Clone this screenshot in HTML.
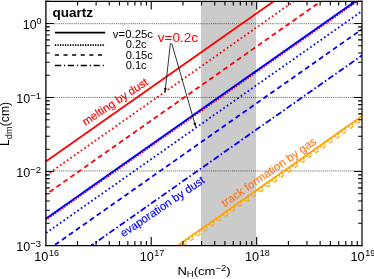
<!DOCTYPE html>
<html><head><meta charset="utf-8"><title>quartz</title>
<style>html,body{margin:0;padding:0;background:#fff;}svg{display:block;will-change:transform;}text{font-family:"Liberation Sans",sans-serif;}</style></head><body>
<svg width="374" height="279" viewBox="0 0 374 279">
<rect x="0" y="0" width="374" height="279" fill="#fff"/>
<defs><clipPath id="c"><rect x="45.80" y="1.30" width="316.30" height="244.20"/></clipPath></defs>
<rect x="201.00" y="1.30" width="55.00" height="244.20" fill="#cbcbcb"/>
<line x1="45.80" y1="23.70" x2="362.10" y2="23.70" stroke="#4a4a4a" stroke-width="0.85" stroke-dasharray="1 0.9"/>
<line x1="45.80" y1="97.40" x2="362.10" y2="97.40" stroke="#4a4a4a" stroke-width="0.85" stroke-dasharray="1 0.9"/>
<line x1="45.80" y1="170.95" x2="362.10" y2="170.95" stroke="#4a4a4a" stroke-width="0.85" stroke-dasharray="1 0.9"/>
<g clip-path="url(#c)">
<line x1="45.80" y1="161.40" x2="362.10" y2="-60.77" stroke="#ff0000" stroke-width="1.8" stroke-linecap="butt"/>
<line x1="45.80" y1="175.50" x2="362.10" y2="-46.67" stroke="#ff0000" stroke-width="1.8" stroke-dasharray="1.7 2.547" stroke-dashoffset="-0.36" stroke-linecap="butt"/>
<line x1="45.80" y1="194.60" x2="362.10" y2="-27.57" stroke="#ff0000" stroke-width="1.8" stroke-dasharray="5.0 3.49" stroke-dashoffset="-4.5" stroke-linecap="butt"/>
<line x1="45.80" y1="220.10" x2="362.10" y2="-2.07" stroke="#ff0000" stroke-width="1.8" stroke-dasharray="1.5 1.3" stroke-linecap="butt"/>
<line x1="45.80" y1="218.70" x2="362.10" y2="-3.47" stroke="#0000ff" stroke-width="2.0" stroke-linecap="butt"/>
<line x1="45.80" y1="233.20" x2="362.10" y2="11.03" stroke="#0000ff" stroke-width="1.8" stroke-dasharray="1.7 2.547" stroke-dashoffset="-0.35" stroke-linecap="butt"/>
<line x1="45.80" y1="251.30" x2="362.10" y2="29.13" stroke="#0000ff" stroke-width="1.8" stroke-dasharray="5.0 3.49" stroke-dashoffset="-2.77" stroke-linecap="butt"/>
<line x1="45.80" y1="277.50" x2="362.10" y2="55.33" stroke="#0000ff" stroke-width="1.8" stroke-dasharray="6.2 2.47 1.6 2.47" stroke-dashoffset="-1.21" stroke-linecap="butt"/>
<line x1="45.80" y1="342.50" x2="362.10" y2="120.33" stroke="#ffa500" stroke-width="1.3" stroke-dasharray="3.7 4.79" stroke-dashoffset="1.4" stroke-linecap="butt"/>
<line x1="45.80" y1="339.80" x2="362.10" y2="117.63" stroke="#ffa500" stroke-width="1.6" stroke-dasharray="1.7 2.547" stroke-linecap="butt"/>
<line x1="45.80" y1="338.20" x2="362.10" y2="116.03" stroke="#ffa500" stroke-width="1.8" stroke-linecap="butt"/>
</g>
<path d="M77.54 245.60v-4.50M77.54 1.45v4.00M96.10 245.60v-4.50M96.10 1.45v4.00M109.28 245.60v-4.50M109.28 1.45v4.00M119.49 245.60v-4.50M119.49 1.45v4.00M127.84 245.60v-4.50M127.84 1.45v4.00M134.90 245.60v-4.50M134.90 1.45v4.00M141.02 245.60v-4.50M141.02 1.45v4.00M146.41 245.60v-4.50M146.41 1.45v4.00M151.23 245.60v-8.50M151.23 1.45v8.00M182.97 245.60v-4.50M182.97 1.45v4.00M201.54 245.60v-4.50M201.54 1.45v4.00M214.71 245.60v-4.50M214.71 1.45v4.00M224.93 245.60v-4.50M224.93 1.45v4.00M233.28 245.60v-4.50M233.28 1.45v4.00M240.33 245.60v-4.50M240.33 1.45v4.00M246.45 245.60v-4.50M246.45 1.45v4.00M251.84 245.60v-4.50M251.84 1.45v4.00M256.67 245.60v-8.50M256.67 1.45v8.00M288.41 245.60v-4.50M288.41 1.45v4.00M306.97 245.60v-4.50M306.97 1.45v4.00M320.14 245.60v-4.50M320.14 1.45v4.00M330.36 245.60v-4.50M330.36 1.45v4.00M338.71 245.60v-4.50M338.71 1.45v4.00M345.77 245.60v-4.50M345.77 1.45v4.00M351.88 245.60v-4.50M351.88 1.45v4.00M357.28 245.60v-4.50M357.28 1.45v4.00M45.80 223.22h4.00M362.10 223.22h-4.00M45.80 210.19h4.00M362.10 210.19h-4.00M45.80 200.95h4.00M362.10 200.95h-4.00M45.80 193.78h4.00M362.10 193.78h-4.00M45.80 187.92h4.00M362.10 187.92h-4.00M45.80 182.96h4.00M362.10 182.96h-4.00M45.80 178.67h4.00M362.10 178.67h-4.00M45.80 174.89h4.00M362.10 174.89h-4.00M45.80 171.50h8.00M362.10 171.50h-8.00M45.80 149.22h4.00M362.10 149.22h-4.00M45.80 136.19h4.00M362.10 136.19h-4.00M45.80 126.95h4.00M362.10 126.95h-4.00M45.80 119.78h4.00M362.10 119.78h-4.00M45.80 113.92h4.00M362.10 113.92h-4.00M45.80 108.96h4.00M362.10 108.96h-4.00M45.80 104.67h4.00M362.10 104.67h-4.00M45.80 100.89h4.00M362.10 100.89h-4.00M45.80 97.50h8.00M362.10 97.50h-8.00M45.80 75.22h4.00M362.10 75.22h-4.00M45.80 62.19h4.00M362.10 62.19h-4.00M45.80 52.95h4.00M362.10 52.95h-4.00M45.80 45.78h4.00M362.10 45.78h-4.00M45.80 39.92h4.00M362.10 39.92h-4.00M45.80 34.96h4.00M362.10 34.96h-4.00M45.80 30.67h4.00M362.10 30.67h-4.00M45.80 26.89h4.00M362.10 26.89h-4.00M45.80 23.50h8.00M362.10 23.50h-8.00M45.80 1.22h4.00M362.10 1.22h-4.00" stroke="#000" stroke-width="1.1" fill="none"/>
<path d="M45.25 1.45H362.60" stroke="#000" stroke-width="1.2" fill="none"/>
<path d="M45.25 245.60H362.60" stroke="#000" stroke-width="1.15" fill="none"/>
<path d="M45.90 0.85V246.15" stroke="#000" stroke-width="1.3" fill="none"/>
<path d="M362.00 0.85V246.15" stroke="#000" stroke-width="1.2" fill="none"/>
<text x="41.50" y="29.10" font-size="12.3" text-anchor="end">10<tspan font-size="9.0" dy="-4.7" dx="0">0</tspan></text>
<text x="41.20" y="103.10" font-size="12.5" text-anchor="end">10<tspan font-size="9.6" dy="-4.3" dx="0">−1</tspan></text>
<text x="41.20" y="177.10" font-size="12.5" text-anchor="end">10<tspan font-size="9.6" dy="-4.3" dx="0">−2</tspan></text>
<text x="41.20" y="251.10" font-size="12.5" text-anchor="end">10<tspan font-size="9.6" dy="-4.3" dx="0">−3</tspan></text>
<text x="34.20" y="261.20" font-size="12.7" text-anchor="start">10<tspan font-size="9.0" dy="-5.3" dx="0.6">16</tspan></text>
<text x="139.63" y="261.20" font-size="12.7" text-anchor="start">10<tspan font-size="9.0" dy="-5.3" dx="0.6">17</tspan></text>
<text x="245.07" y="261.20" font-size="12.7" text-anchor="start">10<tspan font-size="9.0" dy="-5.3" dx="0.6">18</tspan></text>
<text x="350.50" y="261.20" font-size="12.7" text-anchor="start">10<tspan font-size="9.0" dy="-5.3" dx="0.6">19</tspan></text>
<text x="177.4" y="274.9" font-size="11.8" textLength="53.2" lengthAdjust="spacingAndGlyphs">N<tspan font-size="8.6" dy="1.7">H</tspan><tspan dy="-1.7">(cm</tspan><tspan font-size="8.6" dy="-3.9">−2</tspan><tspan dy="3.9">)</tspan></text>
<text transform="translate(9.4 123.9) rotate(-90)" font-size="12.2" text-anchor="middle">L<tspan font-size="9.3" dy="2.3">dm</tspan><tspan dy="-2.3">(cm)</tspan></text>
<text x="52.5" y="16.9" font-size="13.5" font-weight="bold">quartz</text>
<line x1="54.9" y1="32.60" x2="105.2" y2="32.60" stroke="#000" stroke-width="1.6"/>
<line x1="54.9" y1="45.10" x2="105.2" y2="45.10" stroke="#000" stroke-width="1.6" stroke-dasharray="1.3 1.21"/>
<line x1="54.9" y1="55.00" x2="105.2" y2="55.00" stroke="#000" stroke-width="1.6" stroke-dasharray="4.1 4.5"/>
<line x1="54.9" y1="65.50" x2="105.2" y2="65.50" stroke="#000" stroke-width="1.6" stroke-dasharray="6.2 2.9 1.2 2.6"/>
<text x="112.8" y="37.60" font-size="11.1" textLength="40.2" lengthAdjust="spacingAndGlyphs">v=0.25c</text>
<text x="125.7" y="48.30" font-size="11.1">0.2c</text>
<text x="125.7" y="59.30" font-size="11.1">0.15c</text>
<text x="125.7" y="68.80" font-size="11.1">0.1c</text>
<text x="157.7" y="42.3" font-size="13.6" fill="#ff0000">v=0.2c</text>
<line x1="170.40" y1="43.20" x2="165.00" y2="92.20" stroke="#111" stroke-width="0.85"/>
<polygon points="165.00,92.20 164.07,87.87 166.85,88.18" fill="#000"/>
<line x1="171.70" y1="43.20" x2="195.70" y2="126.80" stroke="#111" stroke-width="0.85"/>
<polygon points="195.70,126.80 193.20,123.15 195.89,122.38" fill="#000"/>
<text transform="translate(85.5 125.9) rotate(-33.5)" font-size="11.3" fill="#ff0000" stroke="#ff0000" stroke-width="0.15">melting by dust</text>
<text transform="translate(123.5 237.4) rotate(-34.0)" font-size="11.33" fill="#0000ff" stroke="#0000ff" stroke-width="0.15">evaporation by dust</text>
<text transform="translate(224.7 207.4) rotate(-34.8)" font-size="11.45" fill="#ff7518" stroke="#ff7518" stroke-width="0.1">track formation by gas</text>
</svg></body></html>
